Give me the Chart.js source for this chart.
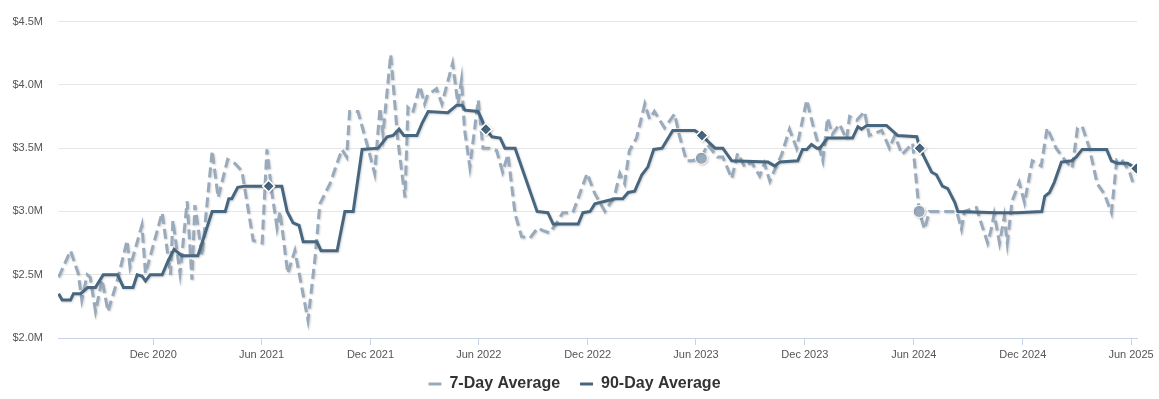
<!DOCTYPE html>
<html>
<head>
<meta charset="utf-8">
<script src="https://cdn.jsdelivr.net/npm/chart.js@4.4.1/dist/chart.umd.min.js"></script>
<style>
  html, body { margin: 0; padding: 0; background: #fff; }
  #wrap { width: 1159px; height: 399px; position: relative; }
</style>
</head>
<body>
<div id="wrap"><canvas id="grafica"></canvas></div>
<script>
// 7-day average (millions of $)
const sevenDayDates = [
  "2020-06-25","2020-07-15","2020-07-28","2020-08-03","2020-08-12","2020-08-17","2020-08-26","2020-09-06",
  "2020-09-16","2020-10-02","2020-10-18","2020-10-23","2020-11-12","2020-11-18","2020-12-16","2020-12-30",
  "2021-01-03","2021-01-15","2021-01-27","2021-02-04","2021-02-09","2021-02-21","2021-03-10","2021-03-20",
  "2021-04-05","2021-04-17","2021-04-29","2021-05-18","2021-06-02","2021-06-10","2021-06-18","2021-06-27",
  "2021-07-02","2021-07-15","2021-07-27","2021-08-18","2021-08-30","2021-09-07","2021-09-24","2021-10-14",
  "2021-10-22","2021-10-27","2021-11-10","2021-11-27","2021-12-08","2021-12-17","2021-12-22","2022-01-04",
  "2022-01-16","2022-01-28","2022-02-02","2022-02-10","2022-02-22","2022-03-02","2022-03-07","2022-03-22",
  "2022-03-31","2022-04-18","2022-04-27","2022-05-03","2022-05-08","2022-05-17","2022-05-31","2022-06-08",
  "2022-06-19","2022-07-01","2022-07-11","2022-07-20","2022-08-01","2022-08-12","2022-08-26","2022-09-08",
  "2022-09-16","2022-09-28","2022-10-10","2022-10-20","2022-11-06","2022-11-30","2022-12-13","2022-12-30",
  "2023-01-15","2023-01-24","2023-02-01","2023-02-09","2023-02-21","2023-03-07","2023-03-15","2023-03-23",
  "2023-04-09","2023-04-26","2023-05-04","2023-05-16","2023-05-25","2023-06-10","2023-06-20","2023-07-07",
  "2023-07-16","2023-07-31","2023-08-10","2023-08-22","2023-09-02","2023-09-16","2023-09-24","2023-10-03",
  "2023-10-14","2023-10-23","2023-11-05","2023-11-17","2023-12-04","2023-12-14","2023-12-31","2024-01-08",
  "2024-01-16","2024-01-28","2024-02-09","2024-02-14","2024-02-26","2024-03-10","2024-03-18","2024-04-08",
  "2024-04-21","2024-04-30","2024-05-12","2024-05-22","2024-05-30","2024-06-10","2024-06-19","2024-06-27",
  "2024-08-12","2024-08-20","2024-08-25","2024-09-14","2024-09-22","2024-10-03","2024-10-09","2024-10-14",
  "2024-10-23","2024-10-31","2024-11-05","2024-11-13","2024-11-25","2024-12-04","2024-12-17","2025-01-01",
  "2025-01-11","2025-01-26","2025-02-09","2025-02-22","2025-03-03","2025-03-11","2025-03-23","2025-04-05",
  "2025-04-17","2025-04-29","2025-05-08","2025-05-16","2025-05-29","2025-06-06"
];
const sevenDayValues = [
  2.48, 2.69, 2.51, 2.30, 2.50, 2.48, 2.21, 2.46,
  2.21, 2.46, 2.77, 2.56, 2.89, 2.51, 2.99, 2.50,
  2.93, 2.51, 3.08, 2.46, 3.05, 2.65, 3.48, 3.11,
  3.41, 3.38, 3.32, 2.77, 2.75, 3.49, 3.16, 2.87,
  3.00, 2.51, 2.69, 2.14, 2.64, 3.06, 3.22, 3.49,
  3.43, 3.79, 3.79, 3.50, 3.30, 3.82, 3.61, 4.24,
  3.56, 3.11, 3.82, 3.78, 3.99, 3.85, 3.92, 3.97,
  3.85, 4.17, 3.85, 4.04, 3.65, 3.35, 3.88, 3.50,
  3.50, 3.48, 3.31, 3.45, 2.98, 2.80, 2.79, 2.87,
  2.85, 2.83, 2.91, 2.99, 2.99, 3.30, 3.14, 3.00,
  3.12, 3.30, 3.22, 3.48, 3.58, 3.85, 3.73, 3.79,
  3.66, 3.77, 3.60, 3.40, 3.40, 3.42, 3.53, 3.43,
  3.43, 3.26, 3.46, 3.35, 3.39, 3.28, 3.38, 3.24,
  3.36, 3.45, 3.65, 3.50, 3.88, 3.69, 3.40, 3.74,
  3.61, 3.69, 3.57, 3.75, 3.72, 3.79, 3.60, 3.64,
  3.50, 3.60, 3.45, 3.50, 3.54, 3.00, 2.86, 3.00,
  3.00, 2.86, 3.00, 3.03, 2.91, 2.75, 2.86, 2.98,
  2.75, 2.96, 2.75, 3.08, 3.23, 3.07, 3.40, 3.36,
  3.66, 3.50, 3.41, 3.34, 3.66, 3.67, 3.50, 3.22,
  3.14, 2.99, 3.41, 3.41, 3.32, 3.20
];

// 90-day average (millions of $)
const ninetyDayDates = [
  "2020-06-25","2020-07-01","2020-07-15","2020-07-20","2020-08-01","2020-08-13","2020-08-26","2020-09-08",
  "2020-10-02","2020-10-12","2020-10-28","2020-11-04","2020-11-12","2020-11-18","2020-11-26","2020-12-16",
  "2020-12-26","2021-01-05","2021-01-18","2021-02-14","2021-03-10","2021-04-01","2021-04-07","2021-04-12",
  "2021-04-22","2021-05-04","2021-07-05","2021-07-14","2021-07-24","2021-08-03","2021-08-10","2021-09-02",
  "2021-09-09","2021-10-06","2021-10-19","2021-11-02","2021-11-17","2021-12-14","2021-12-29","2022-01-08",
  "2022-01-18","2022-01-26","2022-02-17","2022-02-26","2022-03-08","2022-04-10","2022-04-25","2022-05-04",
  "2022-05-09","2022-05-31","2022-06-13","2022-06-23","2022-07-07","2022-07-15","2022-08-01","2022-09-07",
  "2022-09-25","2022-10-04","2022-11-15","2022-11-23","2022-12-05","2022-12-13","2022-12-30","2023-01-16",
  "2023-01-29","2023-02-07","2023-02-18","2023-03-02","2023-03-12","2023-03-22","2023-04-05","2023-04-23",
  "2023-05-30","2023-06-11","2023-06-24","2023-07-03","2023-07-16","2023-07-31","2023-09-30","2023-10-11",
  "2023-10-20","2023-11-19","2023-11-27","2023-12-04","2023-12-12","2023-12-21","2023-12-26","2024-01-08",
  "2024-02-19","2024-02-28","2024-03-05","2024-03-14","2024-04-16","2024-05-05","2024-06-06","2024-06-11",
  "2024-07-01","2024-07-09","2024-07-19","2024-07-28","2024-08-09","2024-08-14","2024-10-18","2024-11-21",
  "2025-01-02","2025-01-07","2025-01-15","2025-01-23","2025-02-04","2025-02-21","2025-03-01","2025-03-11",
  "2025-04-21","2025-04-29","2025-05-09","2025-05-26","2025-06-10"
];
const ninetyDayValues = [
  2.35, 2.30, 2.30, 2.35, 2.35, 2.40, 2.40, 2.50,
  2.50, 2.40, 2.40, 2.50, 2.49, 2.45, 2.50, 2.50,
  2.61, 2.70, 2.65, 2.65, 3.00, 3.00, 3.10, 3.10,
  3.19, 3.20, 3.20, 3.00, 2.91, 2.89, 2.76, 2.76,
  2.69, 2.69, 3.00, 3.00, 3.49, 3.50, 3.59, 3.60,
  3.65, 3.60, 3.60, 3.70, 3.79, 3.78, 3.84, 3.84,
  3.80, 3.79, 3.65, 3.59, 3.58, 3.50, 3.50, 3.00,
  2.99, 2.90, 2.90, 2.99, 3.00, 3.06, 3.08, 3.10,
  3.10, 3.15, 3.16, 3.29, 3.35, 3.49, 3.50, 3.64,
  3.64, 3.60, 3.54, 3.50, 3.50, 3.40, 3.39, 3.36,
  3.39, 3.40, 3.49, 3.49, 3.53, 3.50, 3.50, 3.58,
  3.58, 3.67, 3.65, 3.68, 3.68, 3.60, 3.59, 3.50,
  3.31, 3.29, 3.20, 3.18, 3.07, 3.00, 2.99, 2.99,
  3.00, 3.12, 3.15, 3.23, 3.39, 3.40, 3.43, 3.49,
  3.49, 3.40, 3.38, 3.38, 3.34
];

// June markers
const diamondDates = ["2021-06-13", "2022-06-13", "2023-06-11", "2024-06-11", "2025-06-10"];
const diamondValues = [3.20, 3.65, 3.60, 3.50, 3.34];
const circleDates = ["2023-06-10", "2024-06-10"];
const circleValues = [3.42, 3.00];

// x axis ticks
const tickDates = ["2020-12-01", "2021-06-01", "2021-12-01", "2022-06-01", "2022-12-01",
                   "2023-06-01", "2023-12-01", "2024-06-01", "2024-12-01", "2025-06-01"];
const tickLabels = ["Dec 2020", "Jun 2021", "Dec 2021", "Jun 2022", "Dec 2022",
                    "Jun 2023", "Dec 2023", "Jun 2024", "Dec 2024", "Jun 2025"];

const yTicks = [2.0, 2.5, 3.0, 3.5, 4.0, 4.5];

function pares(fechas, valores) {
  return fechas.map((f, i) => ({ x: Date.parse(f), y: valores[i] }));
}

const FONT = "'Liberation Sans', Arial, sans-serif";
const oscuro = "#47667f";
const claro = "#98aabb";

// soft shadow under the lines
const sombra = {
  id: "sombra",
  beforeDatasetDraw(chart) {
    const ctx = chart.ctx;
    ctx.save();
    ctx.shadowColor = "rgba(0,0,0,0.18)";
    ctx.shadowBlur = 2;
    ctx.shadowOffsetX = 1;
    ctx.shadowOffsetY = 1;
  },
  afterDatasetDraw(chart) {
    chart.ctx.restore();
  }
};

// fixed legend height, nudged up and a little to the right
const alturaLeyenda = {
  id: "alturaLeyenda",
  beforeInit(chart) {
    const fit = chart.legend.fit;
    chart.legend.fit = function () {
      fit.call(this);
      this.height = 37;
    };
  },
  afterLayout(chart) {
    const lg = chart.legend;
    lg.left += 6;
    lg.right += 6;
    lg.top -= 6;
    lg.bottom -= 6;
  }
};

const ctx = document.getElementById("grafica").getContext("2d");
new Chart(ctx, {
  type: "line",
  data: {
    datasets: [
      {
        label: "7-Day Average",
        data: pares(sevenDayDates, sevenDayValues),
        borderColor: claro,
        backgroundColor: claro,
        borderWidth: 3,
        borderDash: [10, 5],
        pointRadius: 0,
        tension: 0,
        order: 3
      },
      {
        label: "90-Day Average",
        data: pares(ninetyDayDates, ninetyDayValues),
        borderColor: oscuro,
        backgroundColor: oscuro,
        borderWidth: 3,
        pointRadius: 0,
        tension: 0,
        order: 2
      },
      {
        label: "marks90",
        data: pares(diamondDates, diamondValues),
        showLine: false,
        pointStyle: "rectRot",
        pointRadius: 6,
        pointBackgroundColor: oscuro,
        pointBorderColor: "#ffffff",
        pointBorderWidth: 1.5,
        order: 0
      },
      {
        label: "marks7",
        data: pares(circleDates, circleValues),
        showLine: false,
        pointStyle: "circle",
        pointRadius: 6,
        pointBackgroundColor: claro,
        pointBorderColor: "#ffffff",
        pointBorderWidth: 1,
        order: 1
      }
    ]
  },
  options: {
    responsive: true,
    maintainAspectRatio: false,
    animation: false,
    layout: { padding: { top: 14, right: 22, bottom: 0, left: 0 } },
    scales: {
      x: {
        type: "linear",
        min: Date.parse("2020-06-24"),
        max: Date.parse("2025-06-11"),
        afterBuildTicks: (scale) => {
          scale.ticks = tickDates.map(d => ({ value: Date.parse(d) }));
        },
        afterFit: (scale) => { scale.height = 24; },
        grid: {
          drawOnChartArea: false,
          color: "#c6d4e6",
          tickLength: 7
        },
        border: { color: "#c6d4e6", width: 1 },
        ticks: {
          autoSkip: false,
          maxRotation: 0,
          padding: 3,
          color: "#555555",
          font: { family: FONT, size: 11 },
          callback: (v, i) => tickLabels[i]
        }
      },
      y: {
        min: 2.0,
        max: 4.5,
        afterBuildTicks: (scale) => {
          scale.ticks = yTicks.map(v => ({ value: v }));
        },
        afterFit: (scale) => { scale.width = 58; },
        grid: { color: "#e6e6e6", drawTicks: false },
        border: { display: false },
        ticks: {
          padding: 15,
          color: "#555555",
          font: { family: FONT, size: 11 },
          callback: (v) => "$" + Number(v).toFixed(1) + "M"
        }
      }
    },
    plugins: {
      tooltip: { enabled: false },
      legend: {
        position: "bottom",
        labels: {
          filter: (item) => item.datasetIndex < 2,
          sort: (a, b) => a.datasetIndex - b.datasetIndex,
          usePointStyle: true,
          pointStyle: "line",
          pointStyleWidth: 13,
          boxHeight: 16,
          padding: 20,
          color: "#333333",
          font: { family: FONT, size: 16, weight: "bold" }
        }
      }
    }
  },
  plugins: [sombra, alturaLeyenda]
});
</script>
</body>
</html>
